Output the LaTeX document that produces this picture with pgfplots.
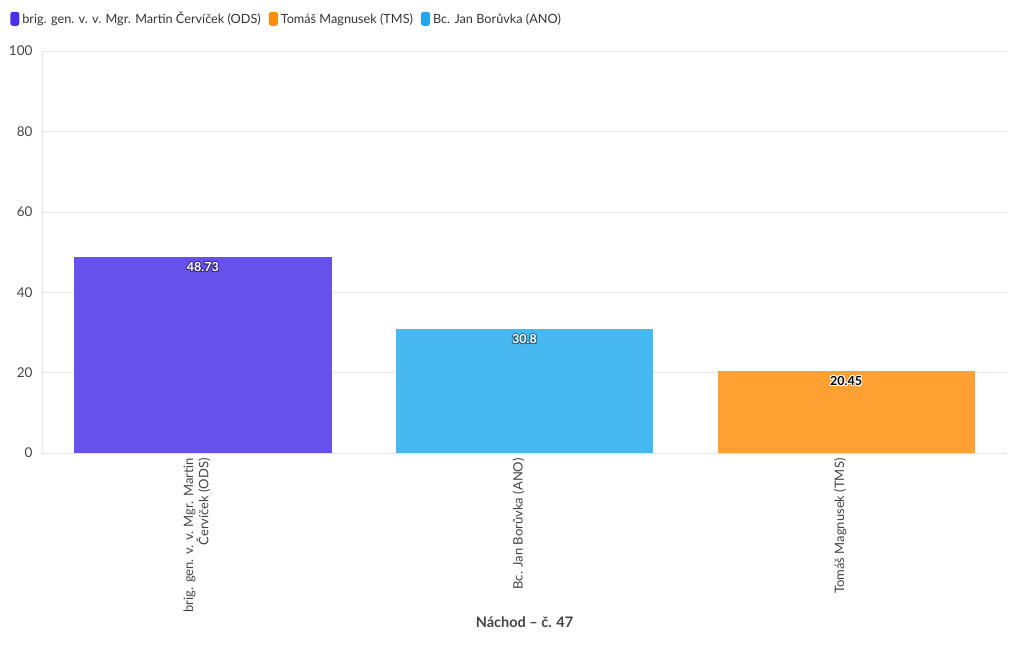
\documentclass[border=0pt]{standalone}
\usepackage{fontspec}
\setmainfont{Lato}
\usepackage{pgfplots}
\usepackage{contour}
\contourlength{0.9pt}
\pgfplotsset{compat=1.18}
\definecolor{cP}{HTML}{4B2FE6}
\definecolor{cO}{HTML}{FF8C0A}
\definecolor{cB}{HTML}{22A6EC}
\definecolor{bP}{HTML}{6652EA}
\definecolor{bO}{HTML}{FFA033}
\definecolor{bB}{HTML}{47B8F0}
\definecolor{txt}{HTML}{444444}
\begin{document}
\begin{tikzpicture}
\begin{axis}[
  at={(42pt,-453pt)}, anchor=south west,
  scale only axis, width=965pt, height=402pt,
  xmin=-0.5, xmax=2.5, ymin=0, ymax=100,
  /pgf/number format/assume math mode=true,
  ybar, bar shift=0pt, bar width=0.8,
  ytick={0,20,40,60,80,100},
  ymajorgrids, grid style={draw=black!9, line width=0.6pt},
  axis x line*=bottom, axis y line*=left,
  axis line style={draw=black!10, line width=0.6pt},
  xtick={0,1,2},
  xticklabels={{brig. gen. v. v. Mgr. Martin\\Červíček (ODS)},{Bc. Jan Borůvka (ANO)},{Tomáš Magnusek (TMS)}},
  xticklabel style={rotate=90, anchor=east, align=right, font=\fontsize{13}{13.5}\selectfont, text=txt, inner sep=1pt, yshift=6pt},
  yticklabel style={font=\fontsize{13.5}{15}\selectfont, text=txt, xshift=-6pt},
  tick style={draw=none},
  xlabel={\textbf{Náchod – č. 47}},
  xlabel style={at={(rel axis cs:0.5,0)}, anchor=center, yshift=-169pt, font=\fontsize{14.5}{16}\selectfont, text=txt},
  legend style={at={(rel axis cs:-0.033,1.08)}, anchor=west, draw=none, fill=none,
    font=\fontsize{12.7}{15}\selectfont, text=black!80, inner sep=0pt,
    /tikz/every even column/.append style={column sep=6pt},
    /tikz/every odd column/.append style={column sep=1pt}},
  legend columns=3,
  nodes near coords, nodes near coords align={below},
  every node near coord/.append style={font=\bfseries\fontsize{12.5}{14}\selectfont, anchor=north, yshift=-2pt},
]
\addplot[fill=bP, draw=none, every node near coord/.append style={text=white},
  nodes near coords={\contour{bP!55!black}{\pgfmathprintnumber[fixed,precision=2,assume math mode=true]{\pgfplotspointmeta}}},
  legend image code/.code={\fill[cP, rounded corners=2.5pt] (0pt,-7pt) rectangle (9pt,7pt);}]
  coordinates {(0,48.73)};
\addlegendentry{brig. gen. v. v. Mgr. Martin Červíček (ODS)}
\addplot[fill=bO, draw=none, every node near coord/.append style={text=black},
  nodes near coords={\contour{white}{\pgfmathprintnumber[fixed,precision=2,assume math mode=true]{\pgfplotspointmeta}}},
  legend image code/.code={\fill[cO, rounded corners=2.5pt] (0pt,-7pt) rectangle (9pt,7pt);}]
  coordinates {(2,20.45)};
\addlegendentry{Tomáš Magnusek (TMS)}
\addplot[fill=bB, draw=none, every node near coord/.append style={text=white},
  nodes near coords={\contour{bB!55!black}{\pgfmathprintnumber[fixed,precision=2,assume math mode=true]{\pgfplotspointmeta}}},
  legend image code/.code={\fill[cB, rounded corners=2.5pt] (0pt,-7pt) rectangle (9pt,7pt);}]
  coordinates {(1,30.8)};
\addlegendentry{Bc. Jan Borůvka (ANO)}
\draw[black!9, line width=0.6pt] (axis cs:0,0) -- ++(0,-152pt);
\draw[black!9, line width=0.6pt] (axis cs:1,0) -- ++(0,-152pt);
\draw[black!9, line width=0.6pt] (axis cs:2,0) -- ++(0,-152pt);
\end{axis}
\pgfresetboundingbox
\path[use as bounding box] (0,0) rectangle (1020pt,-650pt);
\end{tikzpicture}
\end{document}
